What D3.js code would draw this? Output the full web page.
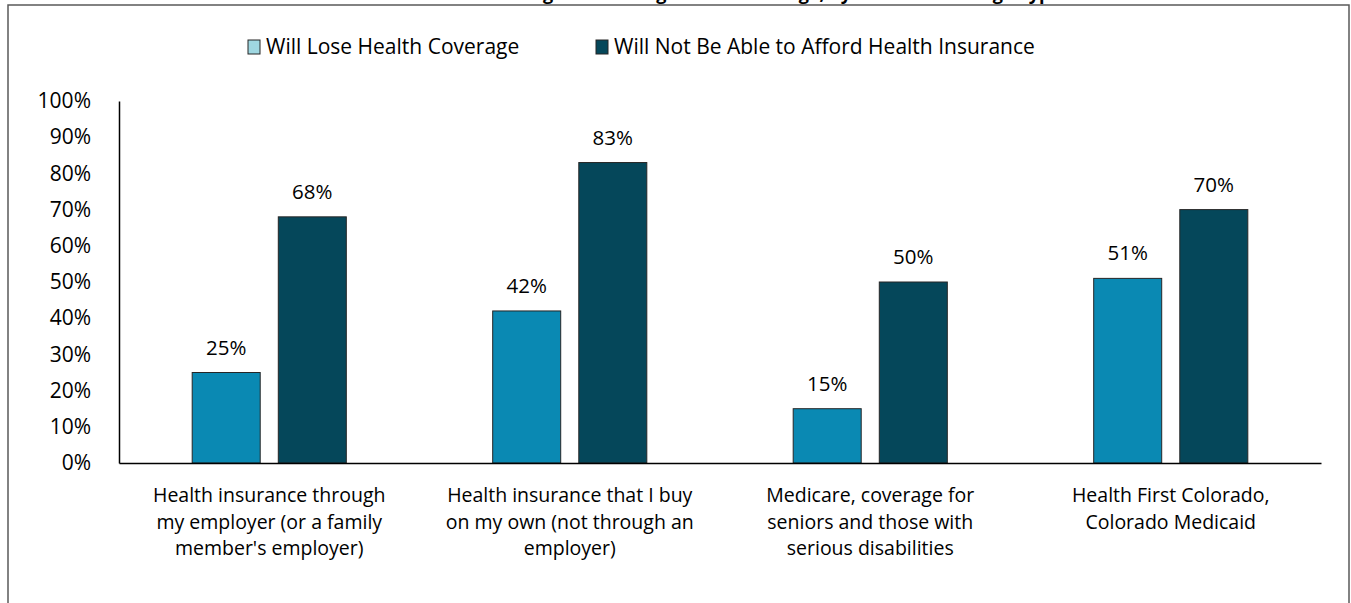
<!DOCTYPE html>
<html>
<head>
    <script src="https://d3js.org/d3.v7.min.js"></script>
    <style>
        body { margin: 0; background: #fff; }
        text { font-family: "Open Sans", "Noto Sans", sans-serif; fill: #000; }
    </style>
</head>
<body>
    <div id="chart"></div>

    <script>
        // chart data
        var categories = [
            ["Health insurance through", "my employer (or a family", "member's employer)"],
            ["Health insurance that I buy", "on my own (not through an", "employer)"],
            ["Medicare, coverage for", "seniors and those with", "serious disabilities"],
            ["Health First Colorado,", "Colorado Medicaid"]
        ];
        var seriesNames = ["Will Lose Health Coverage", "Will Not Be Able to Afford Health Insurance"];
        var loseCoverage = [25, 42, 15, 51];
        var cannotAfford = [68, 83, 50, 70];
        var yTicks = [0, 10, 20, 30, 40, 50, 60, 70, 80, 90, 100];
        var title = "Worried About Losing or Affording Health Coverage, by Current Coverage Type";

        var barColors = ["#0a89b3", "#05475a"];
        var legendColors = ["#9fd7e1", "#05475a"];

        var W = 1351, H = 603;
        var margin = { top: 101, right: 30, bottom: 140, left: 119 };
        var width = 1321 - margin.left;
        var height = 463 - margin.top;

        var svg = d3.select("#chart")
            .append("svg")
            .attr("width", W)
            .attr("height", H);

        // outer frame (bottom edge runs off the picture)
        svg.append("rect")
            .attr("x", 8).attr("y", 5)
            .attr("width", 1341).attr("height", 640)
            .attr("fill", "none")
            .attr("stroke", "#595959")
            .attr("stroke-width", 1.5);

        // title, cut off at the top as in the original
        svg.append("text")
            .attr("x", 710).attr("y", 0)
            .attr("text-anchor", "middle")
            .style("font-weight", "bold")
            .style("font-size", "18px")
            .text(title);

        var g = svg.append("g")
            .attr("transform", "translate(" + margin.left + "," + margin.top + ")");

        var data = categories.map(function(c, i) {
            return { idx: i, label: c, values: [loseCoverage[i], cannotAfford[i]] };
        });

        var x0 = d3.scaleBand()
            .domain(d3.range(categories.length))
            .range([0, width])
            .padding(0);

        var x1 = d3.scaleBand()
            .domain([0, 1])
            .range([0, x0.bandwidth()])
            .paddingInner(0.21)
            .paddingOuter(0.85);

        var y = d3.scaleLinear()
            .domain([0, 100])
            .range([height, 0]);

        // y axis
        var yAxis = g.append("g")
            .call(d3.axisLeft(y).tickValues(yTicks).tickSize(0).tickPadding(28)
                .tickFormat(function(d) { return d + "%"; }));
        yAxis.select(".domain").attr("stroke", "#000").attr("stroke-width", 1.5);
        yAxis.selectAll("text")
            .style("font-size", "21px")
            .style("font-family", "'Open Sans', sans-serif")
            .attr("fill", "#000");

        // bars
        var groups = g.selectAll(".grp")
            .data(data)
            .enter().append("g")
            .attr("class", "grp")
            .attr("transform", function(d) { return "translate(" + x0(d.idx) + ",0)"; });

        groups.selectAll("rect")
            .data(function(d) { return d.values.map(function(v, k) { return { k: k, v: v }; }); })
            .enter().append("rect")
            .attr("x", function(d) { return x1(d.k); })
            .attr("width", x1.bandwidth())
            .attr("y", function(d) { return y(d.v); })
            .attr("height", function(d) { return height - y(d.v); })
            .attr("fill", function(d) { return barColors[d.k]; })
            .attr("stroke", "#262626")
            .attr("stroke-width", 1);

        groups.selectAll(".val")
            .data(function(d) { return d.values.map(function(v, k) { return { k: k, v: v }; }); })
            .enter().append("text")
            .attr("class", "val")
            .attr("x", function(d) { return x1(d.k) + x1.bandwidth() / 2; })
            .attr("y", function(d) { return y(d.v) - 18; })
            .attr("text-anchor", "middle")
            .style("font-size", "20.5px")
            .text(function(d) { return d.v + "%"; });

        // x axis baseline
        var xAxis = g.append("g")
            .attr("transform", "translate(0," + height + ")")
            .call(d3.axisBottom(x0).tickSize(0).tickFormat(""));
        xAxis.select(".domain").attr("stroke", "#000").attr("stroke-width", 1.5);

        // category labels, one text per wrapped line
        groups.selectAll(".cat")
            .data(function(d) { return d.label; })
            .enter().append("text")
            .attr("class", "cat")
            .attr("text-anchor", "middle")
            .attr("x", x0.bandwidth() / 2)
            .attr("y", function(d, i) { return height + 39 + i * 26.5; })
            .style("font-size", "19.5px")
            .text(function(d) { return d; });

        // legend
        var legendX = [248, 596];
        var legend = svg.selectAll(".legend")
            .data(seriesNames)
            .enter().append("g")
            .attr("class", "legend")
            .attr("transform", function(d, i) { return "translate(" + legendX[i] + ",40)"; });

        legend.append("rect")
            .attr("width", 12).attr("height", 14)
            .attr("fill", function(d, i) { return legendColors[i]; })
            .attr("stroke", "#262626")
            .attr("stroke-width", 1);

        legend.append("text")
            .attr("x", 18).attr("y", 14)
            .style("font-size", "21px")
            .text(function(d) { return d; });
    </script>
</body>
</html>
